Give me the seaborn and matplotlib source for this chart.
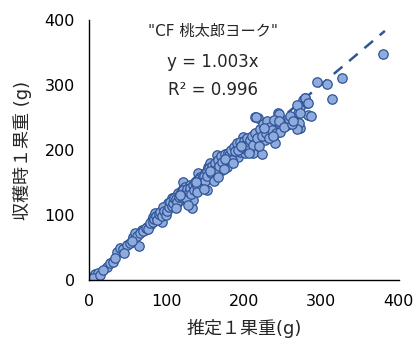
import numpy as np
import pandas as pd
import matplotlib
matplotlib.use("Agg")
import matplotlib.pyplot as plt
import seaborn as sns

# estimated (x) vs harvested (y) fruit weight
est_weight = [
    1, 3.4, 7.7, 12, 5.6, 14.2, 22.8, 27.1, 31.4, 35.7, 40, 44.3, 48.6, 52.9, 57.2, 59.4, 64.9,
    68, 72.3, 74.4, 78.7, 80.9, 83, 85.2, 87.3, 91.6, 93.8, 95.9, 98.1, 100.2, 102.4, 104.5,
    106.7, 108.8, 111, 113.1, 115.3, 117.4, 119.6, 121.7, 123.9, 126, 128.2, 130.3, 132.5,
    134.6, 136.8, 138.9, 141.1, 143.2, 145.4, 147.5, 149.7, 151.8, 154, 156.1, 158.3, 160.4,
    162.6, 164.7, 166.9, 169, 171.2, 173.3, 175.5, 177.6, 181.9, 184.1, 186.2, 188.4, 190.5,
    192.7, 194.8, 198.3, 199.1, 201.3, 203.4, 205.6, 207.7, 209.9, 212, 214.2, 218.5, 216.3,
    220.6, 222.8, 224.9, 227.1, 229.2, 231.4, 233.5, 235.7, 237.8, 240, 242.2, 244.3, 246.5,
    248.6, 250.8, 255.1, 268, 270.1, 270.1, 272.3, 272.3, 276.6, 278.7, 280.9, 283,
    286.5, 278.7, 283, 268, 272, 271, 269, 244.7, 215.5, 255, 248.6, 233.5,
    293.8, 306.7, 313.1, 326, 379.8,
    62, 66, 70, 73, 76, 79, 82, 84, 86, 88, 90, 92, 94, 96, 97, 99,
    101, 103, 105, 107, 109, 110, 112, 114, 116, 118, 120, 122, 124, 125, 127, 129, 131, 132,
    134, 135, 137, 139, 140, 142, 144,
    146, 148, 150, 152, 153, 155, 157, 159, 160, 161, 163, 165, 167, 168, 170, 172, 174, 176,
    178, 179,
    181, 183, 185, 187, 189, 191, 193, 195, 197, 200, 202, 204, 206, 208, 210, 212, 214, 217,
    219, 221,
    223, 225, 228, 230, 232, 234, 236, 239, 241, 245, 247, 252, 258, 262,
    18, 33, 45, 55, 112, 118, 128, 138, 148, 156, 166, 176, 186, 196, 206, 226, 238, 260, 264,
]
harvest_weight = [
    0, 5.1, 9.2, 11.3, 2.6, 7.7, 20.5, 25.6, 28.2, 43.6, 48.7, 47.2, 53.8, 56.4, 66.7, 71.8, 52.3,
    76.9, 76.9, 82.1, 84.6, 92.3, 97.4, 102.6, 94.9, 97.4, 89.7, 107.7, 102.6, 110.3, 117.9, 115.4,
    125.6, 123.1, 128.2, 117.9, 133.3, 123.1, 138.5, 151.3, 143.6, 133.3, 128.2, 146.2, 110.3,
    123.1, 143.6, 153.8, 164.1, 159, 143.6, 151.3, 164.1, 138.5, 174.4, 179.5, 169.2, 159,
    164.1, 192.3, 174.4, 184.6, 169.2, 179.5, 189.7, 174.4, 184.6, 194.9, 189.7, 194.9, 205.1,
    189.7, 197.4, 220.5, 205.1, 194.9, 200, 210.3, 205.1, 212.8, 194.9, 250.3, 248.7, 210.3,
    225.6, 193.8, 230.8, 215.4, 235.9, 230.8, 225.6, 241, 220.5, 210.3, 230.8, 256.4, 235.9,
    241, 246.2, 238.5, 243.6, 256.4, 235.9, 233.3, 266.7, 276.9, 279.5, 271.8, 253.8,
    252, 280, 272, 269, 257, 241, 233, 256, 250, 241, 235, 241,
    305.1, 301.5, 277.9, 311.3, 347.7,
    68, 72, 75, 80, 79, 88, 90, 94, 99, 92, 101, 104, 98, 112, 106, 100,
    106, 112, 120, 114, 118, 126, 124, 120, 128, 132, 128, 138, 134, 126, 140, 136, 142, 132,
    146, 138, 150, 144, 136, 156, 148,
    156, 160, 152, 168, 160, 172, 164, 176, 168, 152, 180, 170, 184, 176, 190, 182, 170, 194,
    186, 196,
    192, 200, 184, 204, 198, 210, 200, 212, 204, 214, 208, 218, 200, 216, 222, 208, 226, 218,
    206, 232,
    222, 240, 226, 244, 218, 236, 230, 246, 226, 244, 228, 236, 248, 240,
    16, 34, 42, 60, 110, 130, 116, 150, 140, 168, 158, 186, 180, 206, 196, 234, 222, 252, 244,
]
slope = 1.003
fit_x = [0, 382]

df = pd.DataFrame({"est": est_weight, "harvest": harvest_weight})
fit = pd.DataFrame({"x": fit_x, "y": [slope * v for v in fit_x]})

sns.set_style("white")
plt.rcParams["font.family"] = ["DejaVu Sans", "Noto Sans CJK JP"]

fig = plt.figure(figsize=(4.17, 3.44), dpi=100)
ax = fig.add_axes([0.2134, 0.186, 0.743, 0.756])

sns.lineplot(data=fit, x="x", y="y", ax=ax, color="#2F5597", linewidth=1.8,
             linestyle=(0, (4.5, 3.5)), zorder=1)
sns.scatterplot(data=df, x="est", y="harvest", ax=ax, s=46, color="#8FAADC",
                edgecolor="#2F5597", linewidth=0.9, zorder=2)

ax.set_xlim(0, 400)
ax.set_ylim(0, 400)
ax.set_xticks([0, 100, 200, 300, 400])
ax.set_yticks([0, 100, 200, 300, 400])
ax.tick_params(axis="both", labelsize=11.5, direction="out", length=4, width=1,
               colors="black", pad=6)
for side in ["top", "right"]:
    ax.spines[side].set_visible(False)
for side in ["left", "bottom"]:
    ax.spines[side].set_color("black")
    ax.spines[side].set_linewidth(1)

ax.set_xlabel("推定１果重(g)", fontsize=13, labelpad=7)
ax.set_ylabel("収穫時１果重 (g)", fontsize=13, labelpad=9)

ax.text(160, 382, "\"CF 桃太郎ヨーク\"", ha="center", va="center", fontsize=11)
ax.text(160, 335, "y = 1.003x", ha="center", va="center", fontsize=12)
ax.text(160, 292, "R² = 0.996", ha="center", va="center", fontsize=12)

fig.savefig("out.png", dpi=100)
